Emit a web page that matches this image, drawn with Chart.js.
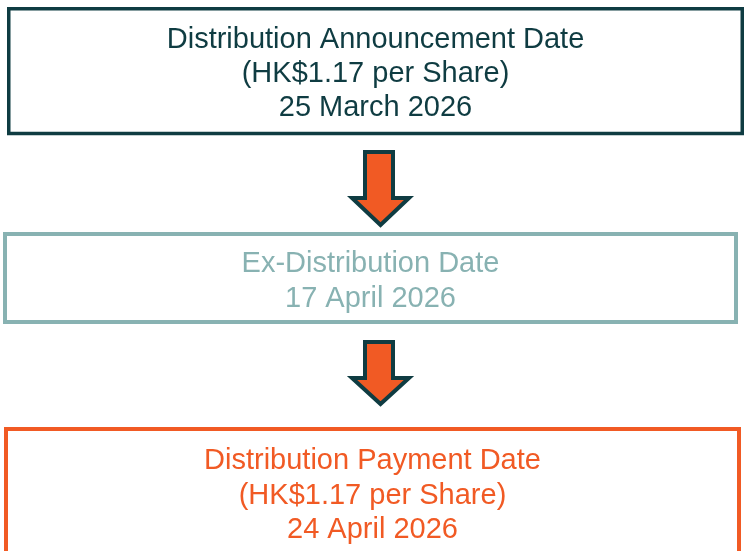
<!DOCTYPE html>
<html>
<head>
<meta charset="utf-8">
<style>
  html, body { margin: 0; padding: 0; background: #ffffff; }
  #flow { display: block; }
</style>
<script src="https://cdn.jsdelivr.net/npm/chart.js@4/dist/chart.umd.min.js"></script>
</head>
<body>
<canvas id="flow" width="749" height="551"></canvas>
<script>
// flow steps, top to bottom
const steps   = ['Distribution Announcement Date', 'Ex-Distribution Date', 'Distribution Payment Date'];
const amounts = ['(HK$1.17 per Share)', null, '(HK$1.17 per Share)'];
const dates   = ['25 March 2026', '17 April 2026', '24 April 2026'];

// geometry in page units (x/y scales run 0..749 / 0..551)
const boxes = [
    { x0: 8.75, x1: 742.25, y0: 8.75, y1: 133.5, lw: 3.5, color: '#0f3c42', baselines: [48, 82, 116] },
    { x0: 5,    x1: 736,    y0: 234,  y1: 322,   lw: 4,   color: '#88b2b2', baselines: [272, 307] },
    { x0: 6,    x1: 739,    y0: 429,  y1: 570,   lw: 4,   color: '#f15a24', baselines: [469, 504, 538] },
];
const arrows = [
    { top: 152, shoulder: 198, tip: 225 },
    { top: 342, shoulder: 378, tip: 404 },
];
const arrowX = { shaftL: 365, shaftR: 393, headL: 352, headR: 409 };

const flowPlugin = {
    id: 'flow',
    afterDatasetsDraw(chart) {
        const { ctx, scales: { x, y } } = chart;
        const px = v => x.getPixelForValue(v);
        const py = v => y.getPixelForValue(v);
        ctx.save();

        boxes.forEach((b, i) => {
            ctx.lineWidth = b.lw;
            ctx.strokeStyle = b.color;
            ctx.lineJoin = 'miter';
            ctx.strokeRect(px(b.x0), py(b.y0), px(b.x1) - px(b.x0), py(b.y1) - py(b.y0));

            const lines = [steps[i], amounts[i], dates[i]].filter(t => t);
            ctx.fillStyle = b.color;
            ctx.font = '29px "Liberation Sans", Arial, sans-serif';
            ctx.textAlign = 'center';
            ctx.textBaseline = 'alphabetic';
            const cx = px((b.x0 + b.x1) / 2);
            lines.forEach((t, j) => ctx.fillText(t, cx, py(b.baselines[j])));
        });

        arrows.forEach(a => {
            const cx = (arrowX.headL + arrowX.headR) / 2;
            ctx.beginPath();
            ctx.moveTo(px(arrowX.shaftL), py(a.top));
            ctx.lineTo(px(arrowX.shaftR), py(a.top));
            ctx.lineTo(px(arrowX.shaftR), py(a.shoulder));
            ctx.lineTo(px(arrowX.headR), py(a.shoulder));
            ctx.lineTo(px(cx), py(a.tip));
            ctx.lineTo(px(arrowX.headL), py(a.shoulder));
            ctx.lineTo(px(arrowX.shaftL), py(a.shoulder));
            ctx.closePath();
            ctx.fillStyle = '#f15a24';
            ctx.fill();
            ctx.lineWidth = 4;
            ctx.strokeStyle = '#0f3c42';
            ctx.lineJoin = 'miter';
            ctx.stroke();
        });

        ctx.restore();
    },
};

new Chart(document.getElementById('flow'), {
    type: 'scatter',
    data: {
        labels: steps,
        datasets: [{
            label: 'steps',
            data: boxes.map(b => ({ x: (b.x0 + b.x1) / 2, y: (b.y0 + b.y1) / 2 })),
            pointRadius: 0,
            pointHoverRadius: 0,
        }],
    },
    options: {
        responsive: false,
        animation: false,
        events: [],
        layout: { padding: 0 },
        plugins: {
            legend:  { display: false },
            tooltip: { enabled: false },
        },
        scales: {
            x: { type: 'linear', min: 0, max: 749, display: false },
            y: { type: 'linear', min: 0, max: 551, reverse: true, display: false },
        },
    },
    plugins: [flowPlugin],
});
</script>
</body>
</html>
